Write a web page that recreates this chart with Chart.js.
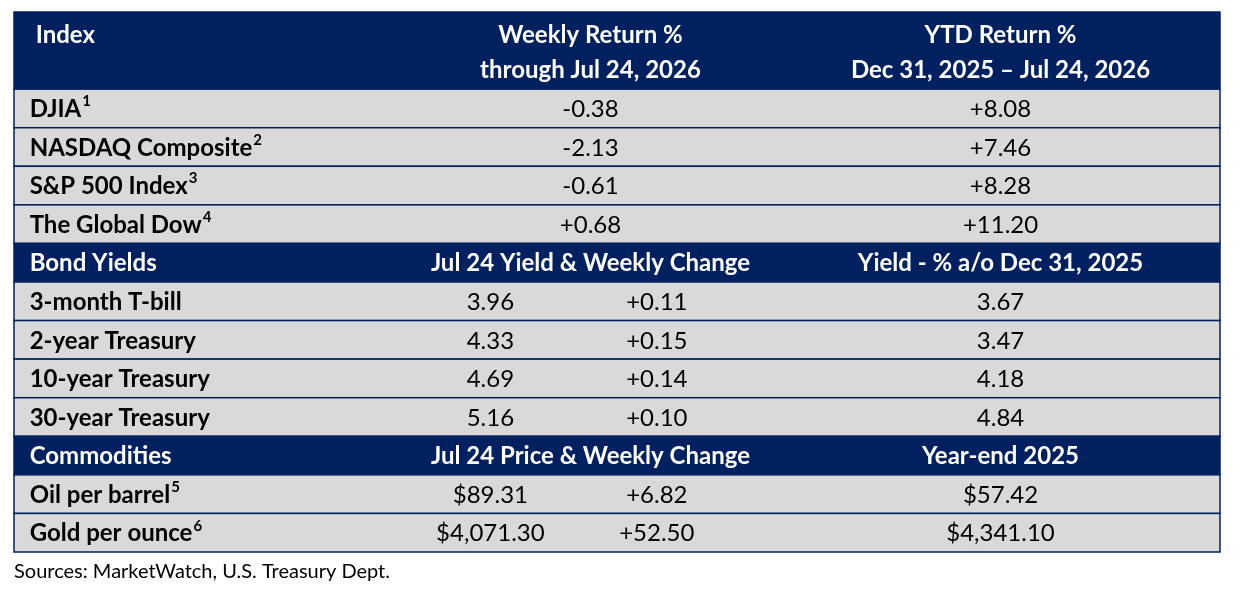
<!DOCTYPE html>
<html>
<head>
<meta charset="utf-8">
<script src="https://cdn.jsdelivr.net/npm/chart.js@4.4.0/dist/chart.umd.min.js"></script>
<style>
  body { margin: 0; background: #fff; }
  #wrap { width: 1254px; height: 594px; }
</style>
</head>
<body>
<div id="wrap"><canvas id="canvas"></canvas></div>
<script>
// row: [kind, label, sup, col values...]  kind: head / sub / row
var rows = [
  { kind: 'head', h: 2, cells: [['Index'], ['Weekly Return %', 'through Jul 24, 2026'], ['YTD Return %', 'Dec 31, 2025 \u2013 Jul 24, 2026']] },
  { kind: 'row', label: 'DJIA', sup: '1', a: '-0.38', c: '+8.08' },
  { kind: 'row', label: 'NASDAQ Composite', sup: '2', a: '-2.13', c: '+7.46' },
  { kind: 'row', label: 'S&P 500 Index', sup: '3', a: '-0.61', c: '+8.28' },
  { kind: 'row', label: 'The Global Dow', sup: '4', a: '+0.68', c: '+11.20' },
  { kind: 'sub', label: 'Bond Yields', a: 'Jul 24 Yield & Weekly Change', c: 'Yield - % a/o Dec 31, 2025' },
  { kind: 'row', label: '3-month T-bill', v1: '3.96', v2: '+0.11', c: '3.67' },
  { kind: 'row', label: '2-year Treasury', v1: '4.33', v2: '+0.15', c: '3.47' },
  { kind: 'row', label: '10-year Treasury', v1: '4.69', v2: '+0.14', c: '4.18' },
  { kind: 'row', label: '30-year Treasury', v1: '5.16', v2: '+0.10', c: '4.84' },
  { kind: 'sub', label: 'Commodities', a: 'Jul 24 Price & Weekly Change', c: 'Year-end 2025' },
  { kind: 'row', label: 'Oil per barrel', sup: '5', v1: '$89.31', v2: '+6.82', c: '$57.42' },
  { kind: 'row', label: 'Gold per ounce', sup: '6', v1: '$4,071.30', v2: '+52.50', c: '$4,341.10' }
]
// column positions in % of table width
var col = { label: 1.3, a: 47.8, v1: 39.5, v2: 53.3, c: 81.8 }
var navy = '#002060', gray = '#d9d9d9'
var font = 'Lato, "Open Sans", sans-serif'

var tablePlugin = {
  id: 'table',
  afterDraw: function(chart) {
    var ctx = chart.ctx, x = chart.scales.x, y = chart.scales.y
    var x0 = x.getPixelForValue(0), x1 = x.getPixelForValue(100)
    var pos = 0
    ctx.save()
    rows.forEach(function(r) {
      var top = y.getPixelForValue(pos), bot = y.getPixelForValue(pos + (r.h || 1))
      var mid = (top + bot) / 2 + 1
      ctx.fillStyle = r.kind == 'row' ? gray : navy
      ctx.fillRect(x0, top, x1 - x0, bot - top)
      ctx.strokeStyle = navy
      ctx.lineWidth = 1.5
      ctx.strokeRect(x0, top, x1 - x0, bot - top)
      ctx.textBaseline = 'middle'
      if (r.kind == 'head') {
        ctx.fillStyle = '#fff'
        ctx.font = 'bold 24px ' + font
        var l1 = top + (bot - top) * 0.3, l2 = top + (bot - top) * 0.76
        ctx.textAlign = 'left'
        ctx.fillText(r.cells[0][0], x.getPixelForValue(1.8), l1)
        ctx.textAlign = 'center'
        ctx.fillText(r.cells[1][0], x.getPixelForValue(col.a), l1)
        ctx.fillText(r.cells[1][1], x.getPixelForValue(col.a), l2)
        ctx.fillText(r.cells[2][0], x.getPixelForValue(col.c), l1)
        ctx.fillText(r.cells[2][1], x.getPixelForValue(col.c), l2)
      } else if (r.kind == 'sub') {
        ctx.fillStyle = '#fff'
        ctx.font = 'bold 24px ' + font
        ctx.textAlign = 'left'
        ctx.fillText(r.label, x.getPixelForValue(col.label), mid)
        ctx.textAlign = 'center'
        ctx.fillText(r.a, x.getPixelForValue(col.a), mid)
        ctx.fillText(r.c, x.getPixelForValue(col.c), mid)
      } else {
        ctx.fillStyle = '#000'
        ctx.font = 'bold 24px ' + font
        ctx.textAlign = 'left'
        var lx = x.getPixelForValue(col.label)
        ctx.fillText(r.label, lx, mid)
        if (r.sup) {
          var w = ctx.measureText(r.label).width
          ctx.font = 'bold 15px ' + font
          ctx.fillText(r.sup, lx + w + 1, mid - 8)
        }
        ctx.font = '24px ' + font
        ctx.textAlign = 'center'
        if (r.a) ctx.fillText(r.a, x.getPixelForValue(col.a), mid)
        if (r.v1) ctx.fillText(r.v1, x.getPixelForValue(col.v1), mid)
        if (r.v2) ctx.fillText(r.v2, x.getPixelForValue(col.v2), mid)
        ctx.fillText(r.c, x.getPixelForValue(col.c), mid)
      }
      pos += r.h || 1
    })
    ctx.fillStyle = '#000'
    ctx.font = '20px ' + font
    ctx.textAlign = 'left'
    ctx.textBaseline = 'middle'
    ctx.fillText('Sources: MarketWatch, U.S. Treasury Dept.', x.getPixelForValue(0), y.getPixelForValue(pos) + 20)
    ctx.restore()
  }
}

var myChart = document.getElementById('canvas').getContext('2d')
var tableChart = new Chart(myChart, {
  type: 'scatter',
  data: { datasets: [{ data: [] }] },
  options: {
    responsive: true,
    maintainAspectRatio: false,
    animation: false,
    layout: { padding: { left: 14, right: 34, top: 12, bottom: 42 } },
    plugins: { legend: { display: false }, tooltip: { enabled: false } },
    scales: {
      x: { type: 'linear', min: 0, max: 100, display: false },
      y: { type: 'linear', min: 0, max: 14, reverse: true, display: false }
    }
  },
  plugins: [tablePlugin]
})
</script>
</body>
</html>
